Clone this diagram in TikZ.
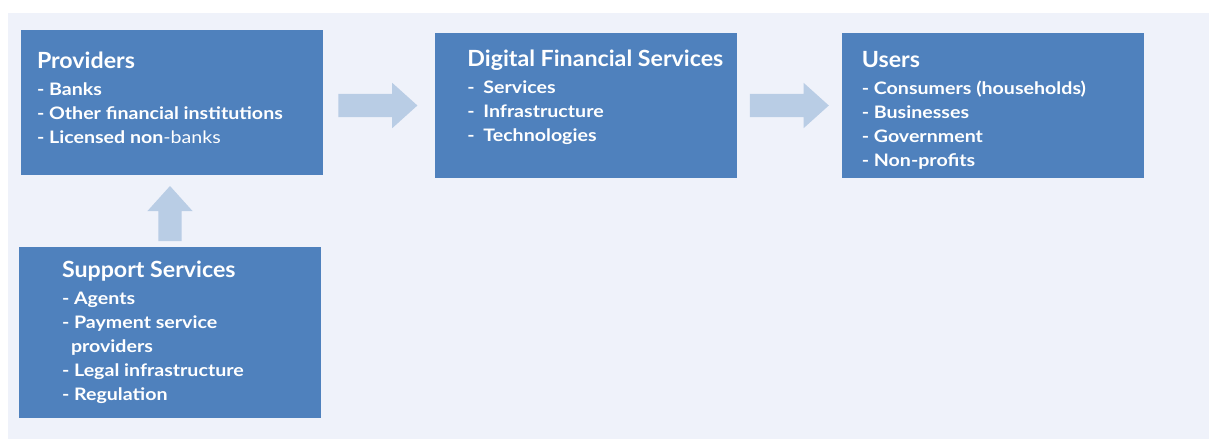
\documentclass[tikz,border=0pt]{standalone}
\usepackage{fontspec}
\setmainfont{Lato}[FakeStretch=1.14]
\newfontfamily\headfont{Lato}[FakeStretch=1.04]
\usepackage{xcolor}
\usetikzlibrary{shapes.arrows,positioning}

\definecolor{boxblue}{HTML}{4F81BD}
\definecolor{flowblue}{HTML}{B9CDE5}
\definecolor{panelbg}{HTML}{EFF2FA}

\newcommand{\boxhead}[1]{{\headfont\bfseries\fontsize{22.3}{24}\selectfont #1}\\[3pt]}

\begin{document}
\begin{tikzpicture}[
    x=1pt, y=-1pt,
    node distance=72pt and 112pt,
    box/.style={rectangle, fill=boxblue, inner sep=0pt, minimum width=302pt, minimum height=145pt},
    boxtext/.style={text=white, align=left, inner sep=0pt, font=\bfseries\fontsize{17.2}{24}\selectfont},
    flow/.style={single arrow, fill=flowblue, inner xsep=0pt, inner ysep=11.5pt, minimum height=79pt, minimum width=45pt, single arrow head extend=11pt, single arrow tip angle=84}
]
    \useasboundingbox (0,0) rectangle (1209,439);
    \fill [panelbg] (8,13) rectangle (1209,439);

    % the four blocks
    \node [box] (prov) at (172,102.5) {};
    \node [box, right=112pt of prov, yshift=-3pt] (dfs) {};
    \node [box, right=104pt of dfs] (users) {};
    \node [box, below=72pt of prov, xshift=-2pt, minimum height=171pt] (sup) {};

    \node [boxtext, below right=22pt and 16pt of prov.north west] (prov-txt) {%
        \boxhead{Providers}
        - Banks\\
        - Other financial institutions\\
        - Licensed non{\mdseries -banks}};
    \node [boxtext, below right=17pt and 32pt of dfs.north west] (dfs-txt) {%
        \boxhead{Digital Financial Services}
        \makebox[16pt][l]{-}Services\\
        \makebox[16pt][l]{-}Infrastructure\\
        \makebox[16pt][l]{-}Technologies};
    \node [boxtext, below right=18pt and 20pt of users.north west] (users-txt) {%
        \boxhead{Users}
        - Consumers (households)\\
        - Businesses\\
        - Government\\
        - Non-profits};
    \node [boxtext, below right=14pt and 43pt of sup.north west] (sup-txt) {%
        \boxhead{Support Services}
        - Agents\\
        - Payment service\\
        \hspace{9pt}providers\\
        - Legal infrastructure\\
        - Regulation};

    % block arrows between them
    \node [flow, right=15pt of prov, anchor=tail, yshift=-3pt] (a1) {};
    \node [flow, right=12pt of dfs, anchor=tail] (a2) {};
    \node [flow, shape border rotate=90, inner xsep=11.5pt, inner ysep=0pt, above=6pt of sup, anchor=tail, minimum height=55pt] (a3) {};
\end{tikzpicture}
\end{document}
